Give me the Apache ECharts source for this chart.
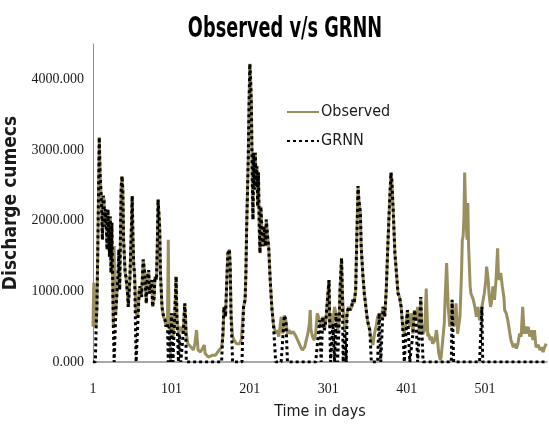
<!DOCTYPE html>
<html>
<head>
<meta charset="utf-8">
<title>Observed v/s GRNN</title>
<script src="https://cdn.jsdelivr.net/npm/echarts@6/dist/echarts.min.js"></script>
<style>
    html, body { margin: 0; padding: 0; background: #fff; }
    #grnn-chart { width: 549px; height: 430px; }
</style>
</head>
<body>
<div id="grnn-chart"></div>
<script>
// day index (x), observed discharge and GRNN output
const days = [
    1, 2, 4, 5, 6, 7, 9, 10, 12, 13,
    14, 15, 16, 17, 19, 20, 22, 23, 24, 25,
    26, 27, 28, 29, 30, 31, 33, 34, 35, 37,
    38, 39, 40, 42, 43, 45, 46, 48, 50, 51,
    52, 53, 54, 56, 58, 60, 61, 63, 65, 67,
    69, 70, 72, 73, 74, 76, 77, 79, 80, 82,
    83, 84, 86, 87, 89, 91, 93, 94, 96, 97,
    98, 100, 101, 103, 105, 107, 108, 110, 111, 113,
    116, 118, 119, 120, 122, 123, 126, 129, 131, 133,
    135, 138, 140, 143, 144, 146, 148, 150, 153, 154,
    157, 160, 162, 165, 167, 168, 170, 172, 173, 175,
    176, 177, 179, 181, 184, 186, 188, 190, 191, 193,
    195, 196, 197, 199, 200, 201, 202, 203, 204, 205,
    206, 207, 208, 209, 210, 211, 212, 213, 214, 215,
    216, 217, 218, 219, 220, 221, 222, 224, 225, 227,
    229, 231, 234, 236, 238, 241, 243, 245, 247, 249,
    251, 253, 256, 258, 260, 262, 264, 266, 268, 271,
    273, 275, 277, 278, 279, 281, 283, 285, 287, 290,
    292, 294, 296, 298, 300, 302, 303, 304, 307, 309,
    311, 313, 315, 316, 318, 319, 320, 322, 324, 325,
    327, 329, 331, 332, 334, 336, 337, 339, 340, 342,
    343, 345, 347, 349, 351, 354, 356, 358, 360, 362,
    364, 366, 368, 371, 373, 375, 377, 379, 381, 382,
    384, 386, 388, 390, 392, 394, 396, 398, 400, 402,
    405, 407, 409, 411, 413, 415, 417, 419, 420, 422,
    424, 426, 428, 429, 431, 433, 434, 437, 439, 440,
    442, 444, 445, 447, 449, 450, 452, 454, 456, 458,
    459, 461, 463, 464, 466, 468, 469, 471, 472, 473,
    474, 475, 476, 478, 479, 480, 482, 483, 486, 488,
    490, 492, 494, 496, 497, 498, 500, 502, 503, 505,
    506, 508, 509, 511, 513, 515, 517, 518, 519, 521,
    523, 525, 526, 528, 530, 532, 534, 537, 539, 541,
    543, 545, 547, 549, 551, 553, 555, 556, 558, 560,
    562, 564, 566, 569, 571, 573, 575, 577, 579
];
const observed = [
    500, 1120, 1100, 500, 780, 1500, 3180, 2680, 2200, 1730,
    2350, 2300, 1920, 2160, 1590, 2160, 1490, 2060, 1260, 1970,
    1260, 500, 1640, 800, 690, 880, 1260, 1590, 1020, 2490,
    2630, 2440, 1730, 1260, 1210, 970, 780, 1160, 1920, 2350,
    1730, 1350, 1260, 690, 640, 1020, 1070, 920, 1450, 1260,
    830, 1160, 1300, 970, 970, 1160, 780, 920, 1210, 1160,
    1640, 2300, 1920, 1260, 780, 640, 590, 500, 545, 1730,
    500, 450, 690, 360, 590, 1210, 640, 400, 400, 500,
    400, 830, 640, 400, 260, 240, 210, 170, 260, 450,
    170, 140, 140, 240, 120, 120, 70, 50, 95, 120,
    95, 140, 170, 210, 400, 780, 640, 1260, 1540, 1590,
    1350, 690, 360, 310, 260, 280, 260, 310, 450, 780,
    880, 1260, 1920, 2870, 3630, 4220, 4000, 3630, 2680, 2015,
    2960, 2440, 2960, 2490, 2770, 2200, 2680, 1920, 1540, 2200,
    1970, 1730, 1640, 1920, 1825, 1640, 2015, 1730, 1640, 1160,
    780, 545, 400, 450, 360, 640, 400, 660, 590, 400,
    450, 400, 430, 400, 360, 310, 260, 210, 170, 210,
    310, 400, 545, 735, 450, 360, 310, 400, 690, 590,
    500, 640, 450, 590, 880, 1160, 500, 690, 545, 780,
    690, 450, 590, 1020, 1470, 970, 780, 450, 545, 690,
    780, 735, 780, 880, 830, 1020, 1540, 2490, 2300, 2110,
    1640, 1260, 970, 780, 590, 450, 310, 240, 400, 500,
    640, 690, 590, 780, 640, 1020, 1640, 2200, 2680, 2580,
    2110, 1540, 1260, 970, 920, 780, 500, 400, 545, 735,
    500, 690, 400, 735, 590, 780, 400, 920, 545, 400,
    450, 1040, 360, 400, 310, 360, 260, 310, 450, 360,
    120, 25, 70, 310, 545, 880, 1400, 780, 500, 640,
    880, 500, 590, 830, 400, 400, 640, 1260, 1730, 1780,
    2015, 2680, 2250, 1730, 2250, 1640, 1070, 970, 880, 780,
    640, 780, 590, 690, 780, 800, 970, 1160, 1350, 1160,
    970, 780, 830, 1070, 880, 1160, 1610, 1260, 1160, 1260,
    1070, 920, 735, 690, 590, 450, 310, 210, 260, 190,
    260, 400, 360, 780, 400, 500, 400, 500, 360, 450,
    310, 450, 210, 240, 170, 210, 140, 210, 260
];
const grnn = [
    0, 0, 0, 500, 780, 1500, 3180, 2680, 2200, 1730,
    2350, 2300, 1920, 2160, 1590, 2160, 1490, 2060, 1260, 1970,
    1260, 500, 0, 0, 690, 880, 1260, 1590, 1020, 2490,
    2630, 2440, 1730, 1260, 1210, 970, 780, 1160, 1920, 2350,
    1730, 1350, 1260, 0, 0, 1020, 1070, 920, 1450, 1260,
    830, 1160, 1300, 970, 970, 1160, 780, 920, 1210, 1160,
    1640, 2300, 1920, 1260, 780, 640, 590, 500, 545, 0,
    500, 0, 690, 0, 590, 1210, 640, 0, 400, 0,
    400, 830, 640, 0, 0, 0, 0, 0, 0, 0,
    0, 0, 0, 0, 0, 0, 0, 0, 0, 0,
    0, 0, 0, 0, 0, 780, 640, 1260, 1540, 1590,
    1350, 690, 0, 0, 0, 0, 0, 0, 0, 780,
    880, 1260, 1920, 2870, 3630, 4220, 4000, 3630, 2680, 2015,
    2960, 2440, 2960, 2490, 2770, 2200, 2680, 1920, 1540, 2200,
    1970, 1730, 1640, 1920, 1825, 1640, 2015, 1730, 1640, 1160,
    780, 545, 0, 0, 0, 0, 0, 660, 590, 0,
    0, 0, 0, 0, 0, 0, 0, 0, 0, 0,
    0, 0, 0, 0, 0, 0, 0, 0, 0, 590,
    0, 640, 450, 590, 880, 1160, 500, 0, 545, 0,
    690, 0, 590, 1020, 1470, 970, 0, 450, 0, 690,
    780, 735, 780, 880, 830, 1020, 1540, 2490, 2300, 2110,
    1640, 1260, 970, 780, 590, 450, 0, 0, 0, 0,
    0, 690, 0, 780, 640, 1020, 1640, 2200, 2680, 2580,
    2110, 1540, 1260, 970, 920, 780, 500, 0, 0, 735,
    0, 0, 400, 735, 590, 0, 400, 920, 545, 0,
    0, 0, 0, 0, 0, 0, 0, 0, 0, 0,
    0, 0, 0, 0, 0, 0, 0, 0, 0, 0,
    880, 0, 0, 0, 0, 0, 0, 0, 0, 0,
    0, 0, 0, 0, 0, 0, 0, 0, 0, 0,
    0, 0, 0, 0, 780, 0, 0, 0, 0, 0,
    0, 0, 0, 0, 0, 0, 0, 0, 0, 0,
    0, 0, 0, 0, 0, 0, 0, 0, 0, 0,
    0, 0, 0, 0, 0, 0, 0, 0, 0, 0,
    0, 0, 0, 0, 0, 0, 0, 0, 0
];
const xTicks = [1, 101, 201, 301, 401, 501];
const yTicks = [0, 1000, 2000, 3000, 4000];

(function () {
    function initGrnnChart() {
        const el = document.getElementById('grnn-chart');
        if (days.length !== observed.length || days.length !== grnn.length) {
            console.error('length mismatch', days.length, observed.length, grnn.length);
        }
        const chart = echarts.init(el, null, { renderer: 'canvas' });
        const narrow = '"Liberation Sans Narrow", "DejaVu Sans Condensed", sans-serif';
        const serif = '"Liberation Serif", "DejaVu Serif", serif';
        const option = {
            animation: false,
            backgroundColor: '#ffffff',
            // title text is drawn squeezed sideways, like the source picture
            graphic: [{
                type: 'text',
                x: 285,
                y: 15,
                scaleX: 0.68,
                style: {
                    text: 'Observed v/s GRNN',
                    fontFamily: narrow,
                    fontWeight: 'bold',
                    fontSize: 29,
                    fill: '#000',
                    textAlign: 'center',
                    textVerticalAlign: 'top'
                }
            }],
            legend: {
                orient: 'vertical',
                left: 286,
                top: 104,
                padding: 0,
                itemWidth: 32,
                itemHeight: 14,
                itemGap: 13,
                itemStyle: { opacity: 0 },
                textStyle: {
                    fontFamily: narrow,
                    fontSize: 16,
                    color: '#1a1a1a',
                    padding: [0, 0, 0, -3]
                },
                data: ['Observed', 'GRNN']
            },
            grid: {
                left: 93,
                right: 2,
                top: 44,
                bottom: 68,
                containLabel: false,
                outerBoundsMode: 'none'
            },
            xAxis: {
                type: 'value',
                min: 1,
                max: 580,
                interval: 100,
                name: 'Time in days',
                nameLocation: 'middle',
                nameGap: 42,
                nameTextStyle: {
                    fontFamily: narrow,
                    fontSize: 16,
                    color: '#1a1a1a'
                },
                axisLine: { lineStyle: { color: '#8c8c8c', width: 1.5 } },
                axisTick: { show: false },
                splitLine: { show: false },
                axisLabel: {
                    margin: 20,
                    alignMinLabel: 'center',
                    alignMaxLabel: 'center',
                    fontFamily: serif,
                    fontSize: 14,
                    color: '#1a1a1a',
                    formatter: function (v) {
                        return xTicks.indexOf(v) >= 0 ? String(v) : '';
                    }
                }
            },
            yAxis: {
                type: 'value',
                min: 0,
                max: 4500,
                interval: 1000,
                name: 'Discharge cumecs',
                nameLocation: 'middle',
                nameGap: 66,
                nameTextStyle: {
                    fontFamily: narrow,
                    fontWeight: 'bold',
                    fontSize: 19,
                    color: '#1a1a1a'
                },
                axisLine: { show: true, lineStyle: { color: '#8c8c8c', width: 1 } },
                axisTick: { show: false },
                splitLine: { show: false },
                axisLabel: {
                    margin: 9,
                    fontFamily: serif,
                    fontSize: 14,
                    color: '#1a1a1a',
                    formatter: function (v) {
                        return yTicks.indexOf(v) >= 0 ? v.toFixed(3) : '';
                    }
                }
            },
            series: [
                {
                    name: 'Observed',
                    type: 'line',
                    showSymbol: false,
                    symbol: 'none',
                    z: 2,
                    lineStyle: { color: '#9a8f5e', width: 3 },
                    itemStyle: { color: '#9a8f5e' },
                    data: days.map((d, i) => [d, observed[i]])
                },
                {
                    name: 'GRNN',
                    type: 'line',
                    showSymbol: false,
                    symbol: 'none',
                    z: 3,
                    lineStyle: { color: '#000', width: 3, type: [3, 3], cap: 'butt' },
                    itemStyle: { color: '#000' },
                    data: days.map((d, i) => [d, grnn[i]])
                }
            ]
        };
        chart.setOption(option);
        window.addEventListener('resize', function () {
            chart.resize();
        });
        return chart;
    }
    document.addEventListener('DOMContentLoaded', function () {
        if (typeof echarts === 'undefined') {
            console.error('echarts not loaded');
            return;
        }
        initGrnnChart();
    });
})();
</script>
</body>
</html>
